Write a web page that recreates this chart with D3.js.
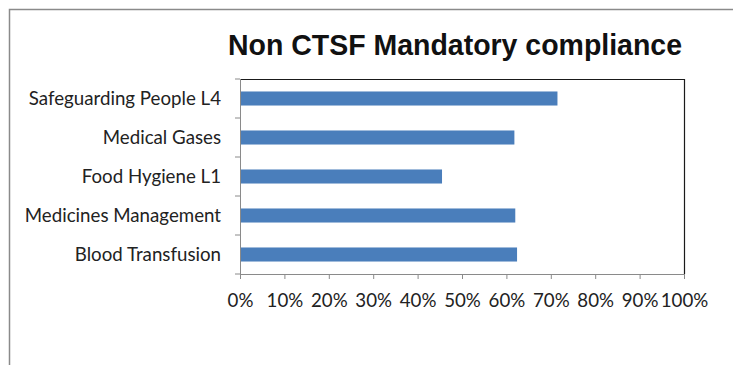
<!DOCTYPE html>
<html>
<head>
<meta charset="utf-8">
<script src="https://cdn.jsdelivr.net/npm/d3@7"></script>
<style>
  html, body { margin: 0; padding: 0; background: #fff; }
  svg { display: block; }
</style>
</head>
<body>
<svg id="chart" width="733" height="365"></svg>
<script>
// Course names, top to bottom
const categories = [
  "Safeguarding People L4",
  "Medical Gases",
  "Food Hygiene L1",
  "Medicines Management",
  "Blood Transfusion"
];
// Compliance share per course
const compliance = [0.715, 0.618, 0.455, 0.620, 0.624];
// Axis ticks, 0% to 100%
const tickValues = [0, 0.1, 0.2, 0.3, 0.4, 0.5, 0.6, 0.7, 0.8, 0.9, 1.0];
const title = "Non CTSF Mandatory compliance";

const svg = d3.select("#chart");
const plot = { left: 240, right: 684, top: 79, bottom: 274 };

// Outer chart frame (open at right and bottom)
svg.append("path")
  .attr("d", "M9.5,365 V9.5 H733")
  .attr("fill", "none")
  .attr("stroke", "#8a8a8a")
  .attr("stroke-width", 1.5);

svg.append("text")
  .attr("x", 228)
  .attr("y", 54.5)
  .attr("textLength", 454)
  .attr("lengthAdjust", "spacingAndGlyphs")
  .attr("font-family", "'Liberation Sans', Arial, sans-serif")
  .attr("font-weight", "bold")
  .attr("font-size", 30)
  .attr("fill", "#111")
  .text(title);

const x = d3.scaleLinear().domain([0, 1]).range([plot.left, plot.right]);
const y = d3.scaleBand().domain(categories).range([plot.top, plot.bottom]).paddingInner(0.64).paddingOuter(0.32);

// Plot-area border: dark top and right edges
svg.append("path")
  .attr("d", `M${plot.left},${plot.top + 0.5} H${plot.right + 0.5} V${plot.bottom}`)
  .attr("fill", "none")
  .attr("stroke", "#1a1a1a")
  .attr("stroke-width", 1.2);

svg.append("g")
  .selectAll("rect")
  .data(categories)
  .join("rect")
  .attr("x", x(0))
  .attr("y", d => y(d))
  .attr("width", (d, i) => x(compliance[i]) - x(0))
  .attr("height", y.bandwidth())
  .attr("fill", "#4a7ebb");

const labelFont = "Lato, 'Open Sans', sans-serif";
const labelSize = 18.7;

// Category axis with ticks at band boundaries
const yAxis = svg.append("g").attr("transform", `translate(${plot.left},0)`);
yAxis.append("line")
  .attr("x1", 0.5).attr("x2", 0.5)
  .attr("y1", plot.top).attr("y2", plot.bottom + 5)
  .attr("stroke", "#8a8a8a");
yAxis.selectAll("line.tick")
  .data(d3.range(categories.length + 1))
  .join("line")
  .attr("class", "tick")
  .attr("x1", -5).attr("x2", 0)
  .attr("y1", i => plot.top + i * (plot.bottom - plot.top) / categories.length)
  .attr("y2", i => plot.top + i * (plot.bottom - plot.top) / categories.length)
  .attr("stroke", "#8a8a8a");
yAxis.selectAll("text")
  .data(categories)
  .join("text")
  .attr("x", -19)
  .attr("y", d => y(d) + y.bandwidth() / 2)
  .attr("dy", "0.36em")
  .attr("text-anchor", "end")
  .attr("font-family", labelFont)
  .attr("font-size", labelSize)
  .attr("fill", "#222")
  .text(d => d);

// Value axis
const xAxis = svg.append("g")
  .attr("transform", `translate(0,${plot.bottom})`)
  .call(d3.axisBottom(x).tickValues(tickValues).tickFormat(d3.format(".0%")).tickSize(5).tickSizeOuter(0));
xAxis.select(".domain").attr("stroke", "#8a8a8a");
xAxis.selectAll(".tick line").attr("stroke", "#8a8a8a");
xAxis.selectAll(".tick text")
  .attr("y", 0)
  .attr("dy", 0)
  .attr("transform", "translate(0,32.7)")
  .attr("font-family", labelFont)
  .attr("font-size", labelSize)
  .attr("fill", "#222");
</script>
</body>
</html>
